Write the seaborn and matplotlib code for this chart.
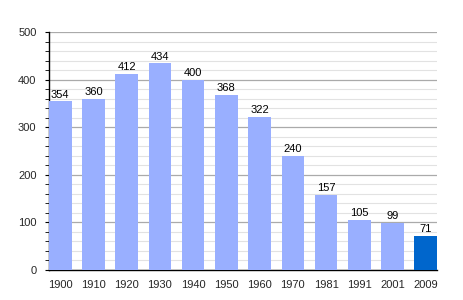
import matplotlib
matplotlib.use("Agg")
import matplotlib.pyplot as plt
import seaborn as sns
import pandas as pd
from matplotlib.ticker import MultipleLocator

years = ["1900", "1910", "1920", "1930", "1940", "1950", "1960", "1970", "1981", "1991", "2001", "2009"]
population = [354, 360, 412, 434, 400, 368, 322, 240, 157, 105, 99, 71]
bar_colors = ["#99AFFF"] * 11 + ["#0066CC"]

df = pd.DataFrame({"year": years, "pop": population})

sns.set_theme(style="white")
plt.rcParams["font.family"] = ["Liberation Sans", "DejaVu Sans"]

fig = plt.figure(figsize=(4.64, 3.0), dpi=100)
ax = fig.add_axes([49/464, 30/300, 388/464, 238/300])

sns.barplot(data=df, x="year", y="pop", hue="year", palette=bar_colors,
            legend=False, width=0.68, saturation=1, linewidth=0, ax=ax, zorder=3)

ax.set_xlim(-0.34, len(years) - 1 + 0.34)
ax.set_ylim(0, 500)
ax.yaxis.set_major_locator(MultipleLocator(100))
ax.yaxis.set_minor_locator(MultipleLocator(20))
ax.grid(which="major", axis="y", color="#aaaaaa", linewidth=0.9, zorder=0)
ax.grid(which="minor", axis="y", color="#e2e2e2", linewidth=0.8, zorder=0)
ax.set_axisbelow(True)

for s in ["top", "right"]:
    ax.spines[s].set_visible(False)
for s in ["left", "bottom"]:
    ax.spines[s].set_color("black")
    ax.spines[s].set_linewidth(1.0)

ax.tick_params(axis="y", which="major", left=True, length=3, width=0.8, color="black",
               labelsize=8, pad=6)
ax.tick_params(axis="y", which="minor", left=True, length=3, width=0.6, color="black")
ax.tick_params(axis="x", bottom=False, labelsize=8, pad=1)
ax.set_xlabel("")
ax.set_ylabel("")

for i, v in enumerate(population):
    ax.text(i, v + 4, str(v), ha="center", va="bottom", fontsize=8, color="black")

fig.savefig("out.png", dpi=100)
